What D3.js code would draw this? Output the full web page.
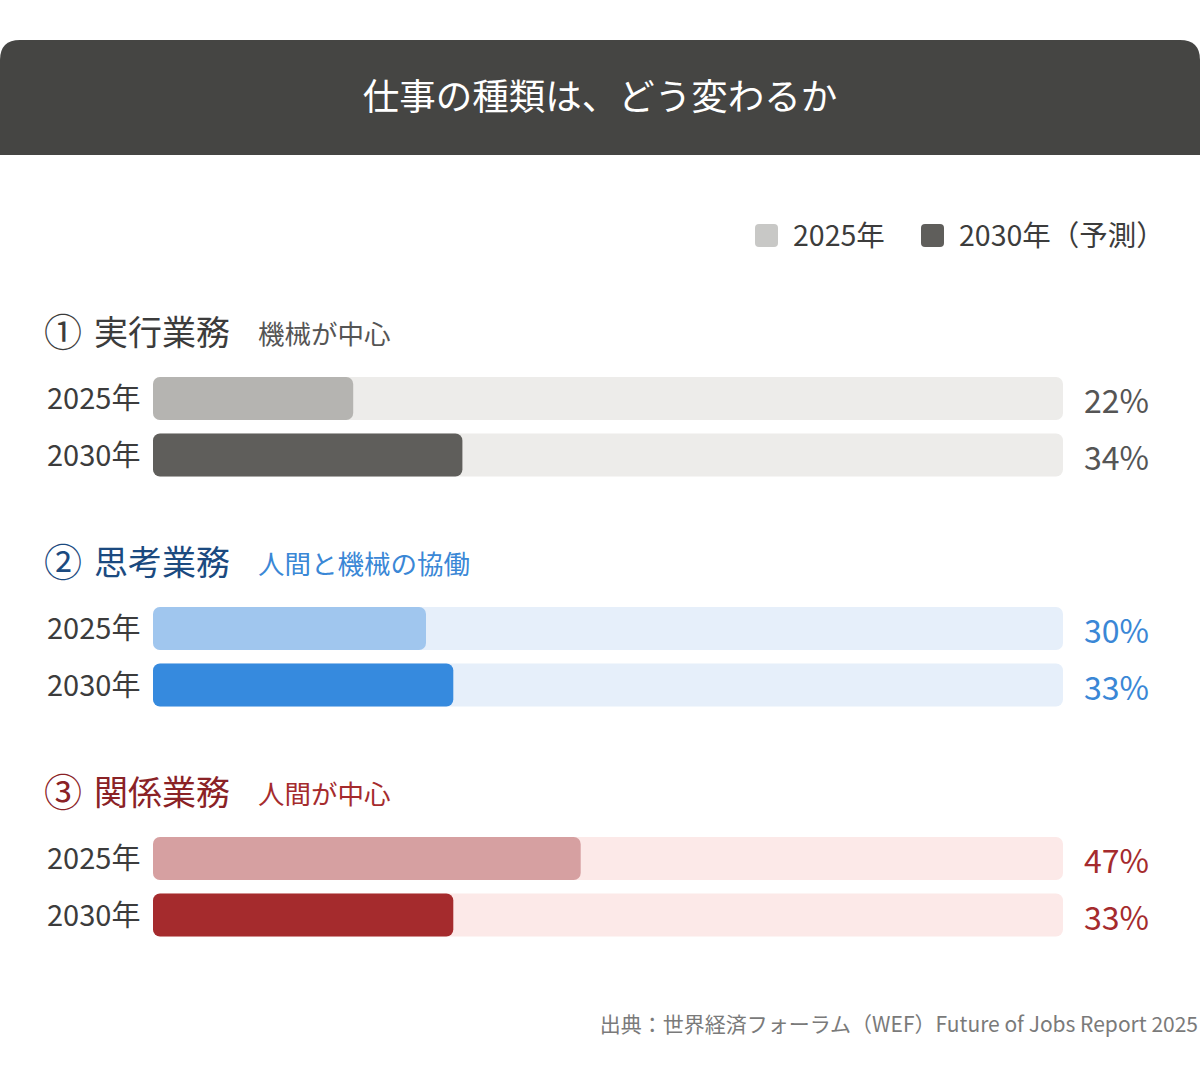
<!DOCTYPE html>
<html>
<head>
<meta charset="utf-8">
<script src="https://cdn.jsdelivr.net/npm/d3@7"></script>
<style>
  body { margin: 0; background: #fff; }
  svg { display: block; font-family: "Noto Sans CJK JP", "Noto Sans", sans-serif; }
</style>
</head>
<body>
<svg id="chart" width="1200" height="1082"></svg>
<script>
let title = "仕事の種類は、どう変わるか";
let source = "出典：世界経済フォーラム（WEF）Future of Jobs Report 2025";

let markers = ["①", "②", "③"];
let categories = ["実行業務", "思考業務", "関係業務"];
let subtitles = ["機械が中心", "人間と機械の協働", "人間が中心"];
let years = ["2025年", "2030年"];
let legendLabels = ["2025年", "2030年（予測）"];
let values2025 = [22, 30, 47];
let values2030 = [34, 33, 33];

// colours per group
let palette = [
    { c2025: "#b5b4b1", c2030: "#5f5e5b", track: "#edecea", head: "#3c3c3c", sub: "#555555", pct: "#555555" },
    { c2025: "#a0c6ee", c2030: "#368ade", track: "#e6effa", head: "#1b4a80", sub: "#3a87d6", pct: "#3a87d6" },
    { c2025: "#d6a0a1", c2030: "#a52b2d", track: "#fce9e8", head: "#8a2226", sub: "#a52b2d", pct: "#a52b2d" }
];

let svg = d3.select("#chart");
let width = 1200;

// header band, rounded top corners
let hTop = 40, hBottom = 155, r = 20;
svg.append("path")
    .attr("d", `M0,${hBottom} L0,${hTop + r} Q0,${hTop} ${r},${hTop} L${width - r},${hTop} Q${width},${hTop} ${width},${hTop + r} L${width},${hBottom} Z`)
    .attr("fill", "#454543");
svg.append("text")
    .attr("x", width / 2).attr("y", 110)
    .attr("text-anchor", "middle")
    .attr("fill", "#fff")
    .style("font-size", "36.5px")
    .text(title);

// legend
let legend = svg.append("g");
let legendX = [755, 921];
let legendColors = ["#c8c8c6", "#5f5e5b"];
legendLabels.forEach(function (l, i) {
    legend.append("rect")
        .attr("x", legendX[i]).attr("y", 224)
        .attr("width", 23).attr("height", 23).attr("rx", 4)
        .attr("fill", legendColors[i]);
    legend.append("text")
        .attr("x", legendX[i] + 38).attr("y", 246)
        .attr("fill", "#3c3c3c")
        .style("font-size", "28.5px")
        .text(l);
});

let xScale = d3.scaleLinear().domain([0, 100]).range([153, 1063]);
let groupY = d3.scaleLinear().domain([0, categories.length - 1]).range([377, 837]);
let rowY = d3.scaleLinear().domain([0, 1]).range([0, 56.5]);
let barH = 43;

let groups = svg.selectAll(".group")
    .data(categories.map((c, i) => ({ name: c, i: i, values: [values2025[i], values2030[i]] })))
    .join("g")
    .attr("class", "group")
    .attr("transform", d => `translate(0,${groupY(d.i)})`);

// headings
let head = groups.append("text")
    .attr("y", -32)
    .attr("fill", d => palette[d.i].head)
    .style("font-size", "34px");
head.append("tspan").attr("x", 44).attr("dy", 1).style("font-size", "38px").text(d => markers[d.i]);
head.append("tspan").attr("x", 94).attr("dy", -1).text(d => d.name);

groups.append("text")
    .attr("x", 258).attr("y", -33)
    .attr("fill", d => palette[d.i].sub)
    .style("font-size", "26.5px")
    .text(d => subtitles[d.i]);

let rows = groups.selectAll(".row")
    .data(d => d.values.map((v, j) => ({ v: v, j: j, g: d.i })))
    .join("g")
    .attr("class", "row")
    .attr("transform", d => `translate(0,${rowY(d.j)})`);

rows.append("rect")
    .attr("x", xScale(0)).attr("y", 0)
    .attr("width", xScale(100) - xScale(0)).attr("height", barH)
    .attr("rx", 7)
    .attr("fill", d => palette[d.g].track);

rows.append("rect")
    .attr("x", xScale(0)).attr("y", 0)
    .attr("width", d => xScale(d.v) - xScale(0)).attr("height", barH)
    .attr("rx", 7)
    .attr("fill", d => d.j == 0 ? palette[d.g].c2025 : palette[d.g].c2030);

rows.append("text")
    .attr("x", 47).attr("y", 32)
    .attr("fill", "#3c3c3c")
    .style("font-size", "29px")
    .text(d => years[d.j]);

rows.append("text")
    .attr("x", 1084).attr("y", 36)
    .attr("fill", d => palette[d.g].pct)
    .style("font-size", "32px")
    .text(d => d.v + "%");

// source
svg.append("text")
    .attr("x", 1198).attr("y", 1032)
    .attr("text-anchor", "end")
    .attr("fill", "#7a7a7a")
    .style("font-size", "21px")
    .text(source);
</script>
</body>
</html>
